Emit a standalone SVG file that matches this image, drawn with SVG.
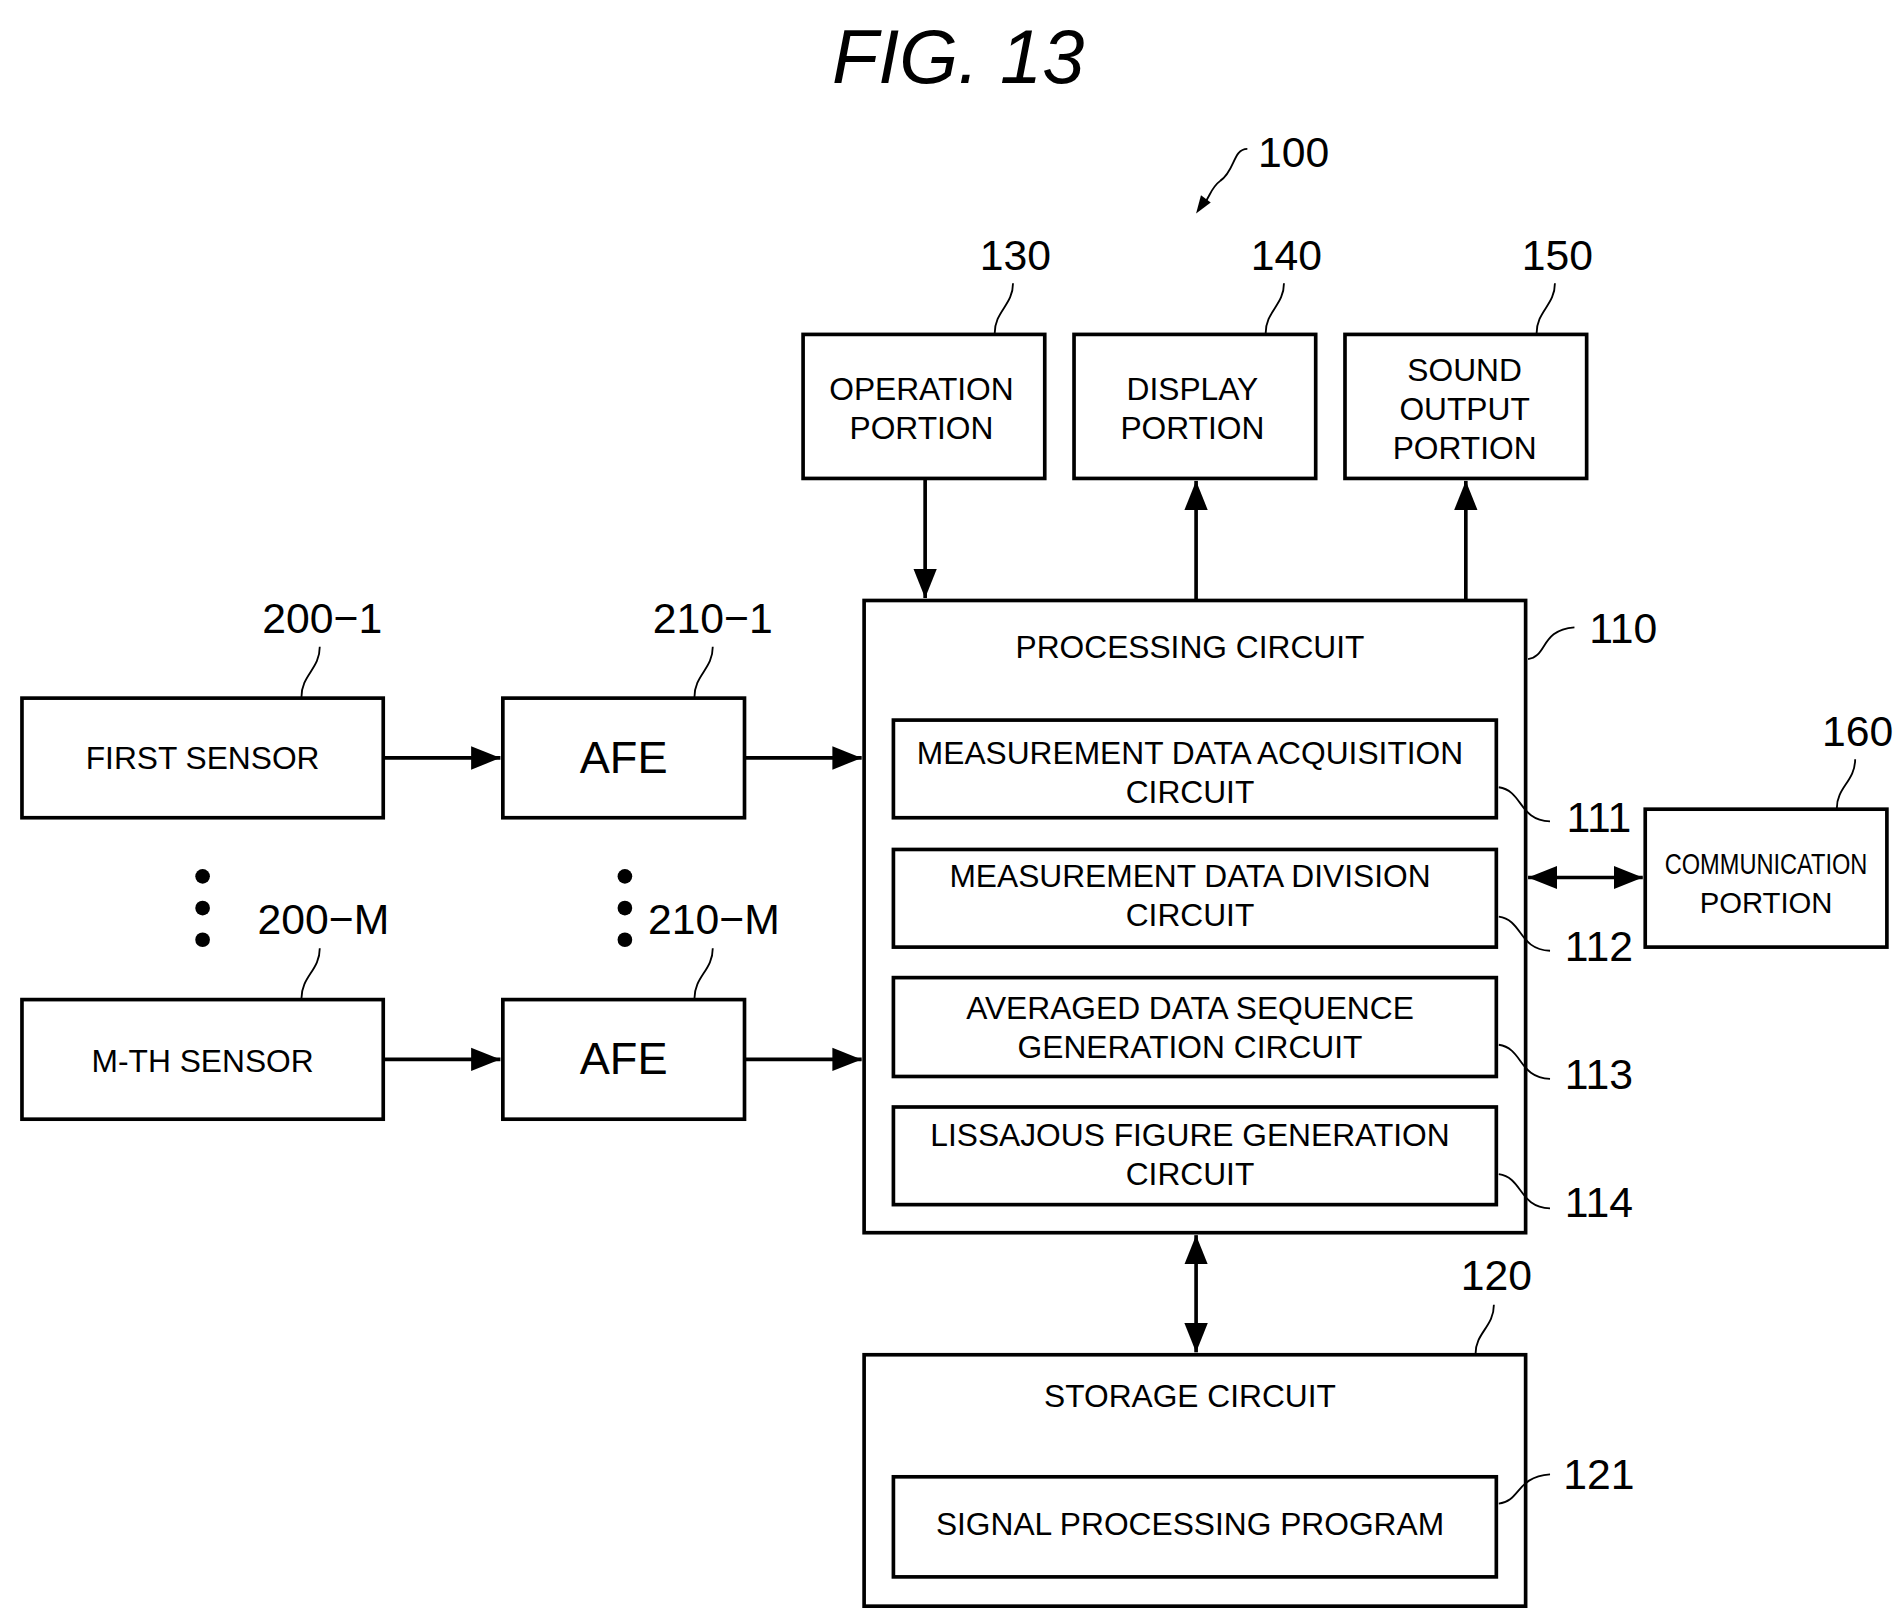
<svg xmlns="http://www.w3.org/2000/svg" width="1904" height="1621" viewBox="0 0 1904 1621">
<style>
.b{fill:#fff;stroke:#000;stroke-width:3}
.t{font-family:"Liberation Sans",Arial,sans-serif;font-size:26px;text-anchor:middle;fill:#000}
.n{font-family:"Liberation Sans",Arial,sans-serif;font-size:35px;text-anchor:middle;fill:#000}
.afe{font-size:37px}
.sm{font-size:24px}
.l{fill:none;stroke:#000;stroke-width:1.5}
.c{fill:none;stroke:#000;stroke-width:3}
</style>
<defs>
<marker id="A" viewBox="0 0 10 10" refX="10" refY="5" markerWidth="8" markerHeight="8" orient="auto-start-reverse"><path d="M0,1L10,5L0,9z" fill="#000"/></marker>
</defs>
<rect width="1904" height="1621" fill="#fff"/>
<g transform="scale(1.2205)">
<text x="785" y="68" font-family="Liberation Sans,Arial,sans-serif" font-style="italic" font-size="62" text-anchor="middle">FIG. 13</text>
<g id="ref100"><text class="n" x="1060" y="137">100</text><path class="l" d="M1022,122 C1010,122 1012,140 1000,148 C992,154 992,160 986,168"/><path d="M980,175 L984,160 L992,166z" fill="#000"/></g>
<g id="n130"><rect class="b" x="658" y="274" width="198" height="118"/><text class="t" x="755" y="328">OPERATION</text><text class="t" x="755" y="360">PORTION</text><text class="n" x="832" y="221">130</text><path class="l" d="M815,273 C815,255 830,250 830,232"/></g>
<g id="n140"><rect class="b" x="880" y="274" width="198" height="118"/><text class="t" x="977" y="328">DISPLAY</text><text class="t" x="977" y="360">PORTION</text><text class="n" x="1054" y="221">140</text><path class="l" d="M1037,273 C1037,255 1052,250 1052,232"/></g>
<g id="n150"><rect class="b" x="1102" y="274" width="198" height="118"/><text class="t" x="1200" y="312">SOUND</text><text class="t" x="1200" y="344">OUTPUT</text><text class="t" x="1200" y="376">PORTION</text><text class="n" x="1276" y="221">150</text><path class="l" d="M1259,273 C1259,255 1274,250 1274,232"/></g>
<g id="n110"><rect class="b" x="708" y="492" width="542" height="518"/><text class="t" x="975" y="539">PROCESSING CIRCUIT</text><text class="n" x="1330" y="527">110</text><path class="l" d="M1252,540 C1268,538 1262,516 1290,514"/>
<rect class="b" x="732" y="590" width="494" height="80"/><text class="t" x="975" y="626">MEASUREMENT DATA ACQUISITION</text><text class="t" x="975" y="658">CIRCUIT</text>
<rect class="b" x="732" y="696" width="494" height="80"/><text class="t" x="975" y="727">MEASUREMENT DATA DIVISION</text><text class="t" x="975" y="759">CIRCUIT</text>
<rect class="b" x="732" y="801" width="494" height="81"/><text class="t" x="975" y="835">AVERAGED DATA SEQUENCE</text><text class="t" x="975" y="867">GENERATION CIRCUIT</text>
<rect class="b" x="732" y="907" width="494" height="80"/><text class="t" x="975" y="939">LISSAJOUS FIGURE GENERATION</text><text class="t" x="975" y="971">CIRCUIT</text>
<text class="n" x="1310" y="682">111</text><path class="l" d="M1228,645 C1248,648 1244,672 1270,673"/>
<text class="n" x="1310" y="787">112</text><path class="l" d="M1228,751 C1248,754 1244,778 1270,779"/>
<text class="n" x="1310" y="892">113</text><path class="l" d="M1228,856 C1248,859 1244,883 1270,884"/>
<text class="n" x="1310" y="997">114</text><path class="l" d="M1228,962 C1248,965 1244,989 1270,990"/></g>
<g id="n160"><rect class="b" x="1348" y="663" width="198" height="113"/><text class="t sm" x="1447" y="716" textLength="166" lengthAdjust="spacingAndGlyphs">COMMUNICATION</text><text class="t sm" x="1447" y="748">PORTION</text><text class="n" x="1522" y="611">160</text><path class="l" d="M1505,662 C1505,645 1520,640 1520,622"/></g>
<g id="n120"><rect class="b" x="708" y="1110" width="542" height="206"/><text class="t" x="975" y="1153">STORAGE CIRCUIT</text><rect class="b" x="732" y="1210" width="494" height="82"/><text class="t" x="975" y="1258">SIGNAL PROCESSING PROGRAM</text><text class="n" x="1226" y="1057">120</text><path class="l" d="M1209,1109 C1209,1092 1224,1087 1224,1069"/><text class="n" x="1310" y="1220">121</text><path class="l" d="M1228,1232 C1246,1230 1242,1210 1270,1208"/></g>
<g id="n200-1"><rect class="b" x="18" y="572" width="296" height="98"/><text class="t" x="166" y="630">FIRST SENSOR</text><text class="n" x="264" y="519">200−1</text><path class="l" d="M247,571 C247,553 262,548 262,530"/></g>
<g id="n210-1"><rect class="b" x="412" y="572" width="198" height="98"/><text class="t afe" x="511" y="633">AFE</text><text class="n" x="584" y="519">210−1</text><path class="l" d="M569,571 C569,553 584,548 584,530"/></g>
<g id="n200-M"><rect class="b" x="18" y="819" width="296" height="98"/><text class="t" x="166" y="878">M-TH SENSOR</text><text class="n" x="265" y="765">200−M</text><path class="l" d="M247,818 C247,800 262,795 262,777"/></g>
<g id="n210-M"><rect class="b" x="412" y="819" width="198" height="98"/><text class="t afe" x="511" y="880">AFE</text><text class="n" x="585" y="765">210−M</text><path class="l" d="M569,818 C569,800 584,795 584,777"/></g>
<g id="dots" fill="#000"><circle cx="166" cy="718" r="6"/><circle cx="166" cy="744" r="6"/><circle cx="166" cy="770" r="6"/><circle cx="512" cy="718" r="6"/><circle cx="512" cy="744" r="6"/><circle cx="512" cy="770" r="6"/></g>
<g id="connectors">
<path class="c" d="M314,621H410" marker-end="url(#A)"/>
<path class="c" d="M610,621H706" marker-end="url(#A)"/>
<path class="c" d="M314,868H410" marker-end="url(#A)"/>
<path class="c" d="M610,868H706" marker-end="url(#A)"/>
<path class="c" d="M758,392V490" marker-end="url(#A)"/>
<path class="c" d="M980,492V394" marker-end="url(#A)"/>
<path class="c" d="M1201,492V394" marker-end="url(#A)"/>
<path class="c" d="M1252,719H1346" marker-start="url(#A)" marker-end="url(#A)"/>
<path class="c" d="M980,1012V1108" marker-start="url(#A)" marker-end="url(#A)"/>
</g>
</g>
</svg>
